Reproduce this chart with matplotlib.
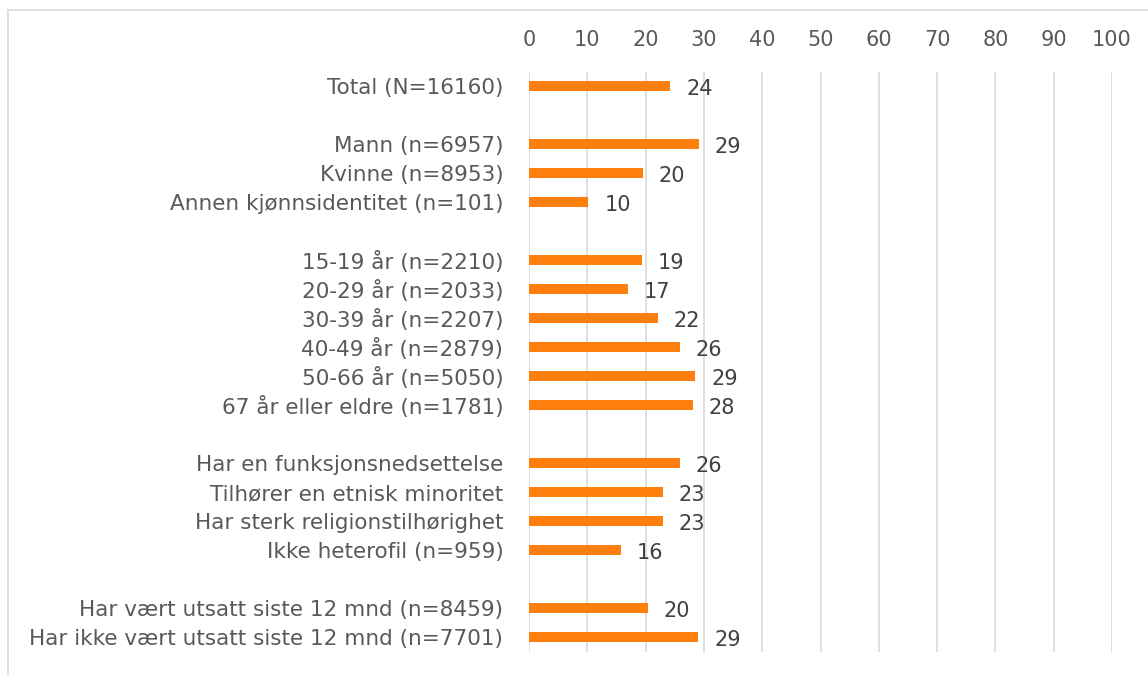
import matplotlib
matplotlib.use("Agg")
import matplotlib.pyplot as plt
import numpy as np
from matplotlib.patches import Rectangle

categories = [
    "Total (N=16160)",
    "",
    "Mann (n=6957)",
    "Kvinne (n=8953)",
    "Annen kjønnsidentitet (n=101)",
    "",
    "15-19 år (n=2210)",
    "20-29 år (n=2033)",
    "30-39 år (n=2207)",
    "40-49 år (n=2879)",
    "50-66 år (n=5050)",
    "67 år eller eldre (n=1781)",
    "",
    "Har en funksjonsnedsettelse",
    "Tilhører en etnisk minoritet",
    "Har sterk religionstilhørighet",
    "Ikke heterofil (n=959)",
    "",
    "Har vært utsatt siste 12 mnd (n=8459)",
    "Har ikke vært utsatt siste 12 mnd (n=7701)",
]
values = [24.2, np.nan, 29.1, 19.5, 10.2, np.nan,
          19.3, 17.0, 22.1, 25.9, 28.5, 28.1, np.nan,
          25.9, 22.9, 22.9, 15.7, np.nan,
          20.4, 29.0]
value_labels = ["24", "", "29", "20", "10", "",
                "19", "17", "22", "26", "29", "28", "",
                "26", "23", "23", "16", "",
                "20", "29"]
xticks = [0, 10, 20, 30, 40, 50, 60, 70, 80, 90, 100]

plt.rcParams['font.family'] = ['DejaVu Sans']
fig = plt.figure(figsize=(11.48, 6.75), dpi=100)
ax = fig.add_axes([529/1148, 1 - 651.5/675, (1112 - 529)/1148, (651.5 - 71.5)/675])

# border
fig.patches.append(Rectangle((8/1148, -0.1), 1.2, 1 - 10/675 + 0.1, transform=fig.transFigure,
                             fill=False, edgecolor="#d9d9d9", linewidth=1.2))

y = np.arange(len(categories))
vals = np.array(values, dtype=float)
mask = ~np.isnan(vals)
ax.barh(y[mask], vals[mask], height=0.36, color="#ff7f0e", zorder=3)

for yi, v, lab in zip(y, vals, value_labels):
    if not np.isnan(v):
        ax.annotate(lab, (v, yi), xytext=(11.5, -2), textcoords="offset points",
                    ha="left", va="center", fontsize=15, color="#404040")

ax.set_xlim(0, 100)
ax.set_ylim(len(categories) - 0.5, -0.5)
ax.set_xticks(xticks)
ax.set_yticks(y)
ax.set_yticklabels(categories)
ax.xaxis.tick_top()
ax.tick_params(axis="x", length=0, pad=15.5, labelsize=15, colors="#595959")
ax.tick_params(axis="y", length=0, pad=18.5, labelsize=15.5, colors="#595959")
ax.grid(axis="x", color="#d9d9d9", linewidth=1.2, zorder=0)
for s in ax.spines.values():
    s.set_visible(False)

fig.savefig("out.png", dpi=100)
